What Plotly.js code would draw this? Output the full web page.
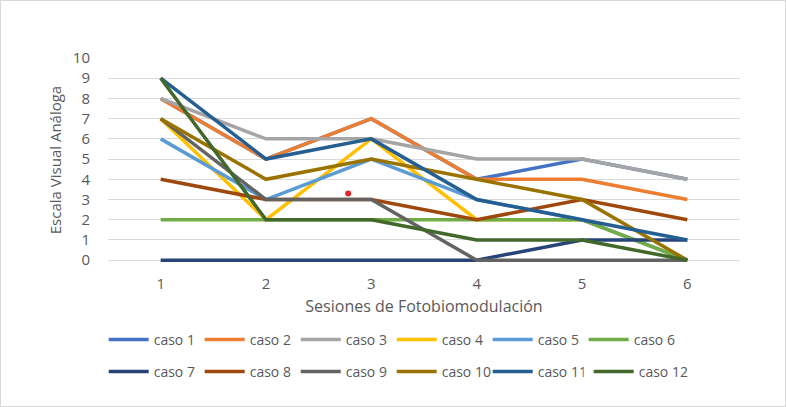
<!DOCTYPE html>
<html>
<head>
<meta charset="utf-8">
<script src="https://cdn.plot.ly/plotly-3.0.1.min.js"></script>
<style>
  html, body { margin: 0; padding: 0; background: #fff; }
  #chart { width: 784px; height: 405px; border: 1px solid #d9d9d9; }
</style>
</head>
<body>
<div id="chart"></div>
<script>
// Sesiones (eje X)
const sesiones = [1, 2, 3, 4, 5, 6];

// Valores de la Escala Visual Análoga por caso
const caso1  = [8, 5, 7, 4, 5, 4];
const caso2  = [8, 5, 7, 4, 4, 3];
const caso3  = [8, 6, 6, 5, 5, 4];
const caso4  = [7, 2, 6, 2, 2, 0];
const caso5  = [6, 3, 5, 3, 2, 0];
const caso6  = [2, 2, 2, 2, 2, 0];
const caso7  = [0, 0, 0, 0, 1, 1];
const caso8  = [4, 3, 3, 2, 3, 2];
const caso9  = [7, 3, 3, 0, 0, 0];
const caso10 = [7, 4, 5, 4, 3, 0];
const caso11 = [9, 5, 6, 3, 2, 1];
const caso12 = [9, 2, 2, 1, 1, 0];

const nombres = ['caso 1','caso 2','caso 3','caso 4','caso 5','caso 6',
                 'caso 7','caso 8','caso 9','caso 10','caso 11','caso 12'];
const series = [caso1, caso2, caso3, caso4, caso5, caso6,
                caso7, caso8, caso9, caso10, caso11, caso12];
const colores = ['#4472C4','#ED7D31','#A5A5A5','#FFC000','#5B9BD5','#70AD47',
                 '#264478','#9E480E','#636363','#997300','#255E91','#43682B'];

// Leyenda en dos filas de seis; el último elemento va aparte para no recortarse
const grupoLeyenda = ['legend','legend','legend','legend','legend','legend',
                      'legend2','legend2','legend2','legend2','legend2','legend3'];

// Punto rojo suelto sobre el área de trazado
const puntoX = [2.78];
const puntoY = [3.3];

const traces = series.map((vals, i) => ({
  type: 'scatter',
  mode: 'lines',
  x: sesiones,
  y: vals,
  name: nombres[i],
  legend: grupoLeyenda[i],
  line: { color: colores[i], width: 3.5 },
  hoverinfo: 'skip'
}));

traces.push({
  type: 'scatter',
  mode: 'markers',
  x: puntoX,
  y: puntoY,
  marker: { color: '#e0242b', size: 6 },
  showlegend: false,
  hoverinfo: 'skip'
});

const fontFam = 'Open Sans, Liberation Sans, sans-serif';
const gris = '#595959';

const legendBase = {
  orientation: 'h',
  xref: 'container',
  yref: 'container',
  xanchor: 'left',
  yanchor: 'middle',
  x: 0.131,
  entrywidth: 41,
  entrywidthmode: 'pixels',
  itemwidth: 40,
  font: { family: fontFam, size: 14, color: gris },
  bgcolor: 'rgba(0,0,0,0)',
  traceorder: 'normal'
};

const paso = 97 / 784;

const layout = {
  width: 784,
  height: 405,
  margin: { l: 107, r: 45, t: 57, b: 144 },
  paper_bgcolor: '#ffffff',
  plot_bgcolor: '#ffffff',
  font: { family: fontFam, color: gris },
  showlegend: true,
  xaxis: {
    range: [0.5, 6.5],
    tickvals: sesiones,
    ticks: 'outside',
    ticklen: 8,
    tickcolor: 'rgba(0,0,0,0)',
    showgrid: false,
    zeroline: false,
    showline: false,
    automargin: false,
    tickfont: { family: fontFam, size: 15, color: gris },
    title: { text: 'Sesiones de Fotobiomodulación', font: { family: fontFam, size: 16, color: gris }, standoff: 8 }
  },
  yaxis: {
    range: [-0.09, 10],
    tickvals: [0, 1, 2, 3, 4, 5, 6, 7, 8, 9, 10],
    ticks: 'outside',
    ticklen: 14,
    tickcolor: 'rgba(0,0,0,0)',
    showgrid: true,
    gridcolor: '#d9d9d9',
    gridwidth: 1,
    zeroline: false,
    showline: false,
    automargin: false,
    tickfont: { family: fontFam, size: 15, color: gris },
    title: { text: 'Escala Visual Análoga', font: { family: fontFam, size: 15, color: gris }, standoff: 7 }
  },
  legend: Object.assign({}, legendBase, { y: 0.163 }),
  legend2: Object.assign({}, legendBase, { y: 0.084 }),
  legend3: Object.assign({}, legendBase, { y: 0.084, x: 0.131 + 5 * paso, entrywidth: 70 })
};

Plotly.newPlot('chart', traces, layout, { displayModeBar: false, staticPlot: true });
</script>
</body>
</html>
